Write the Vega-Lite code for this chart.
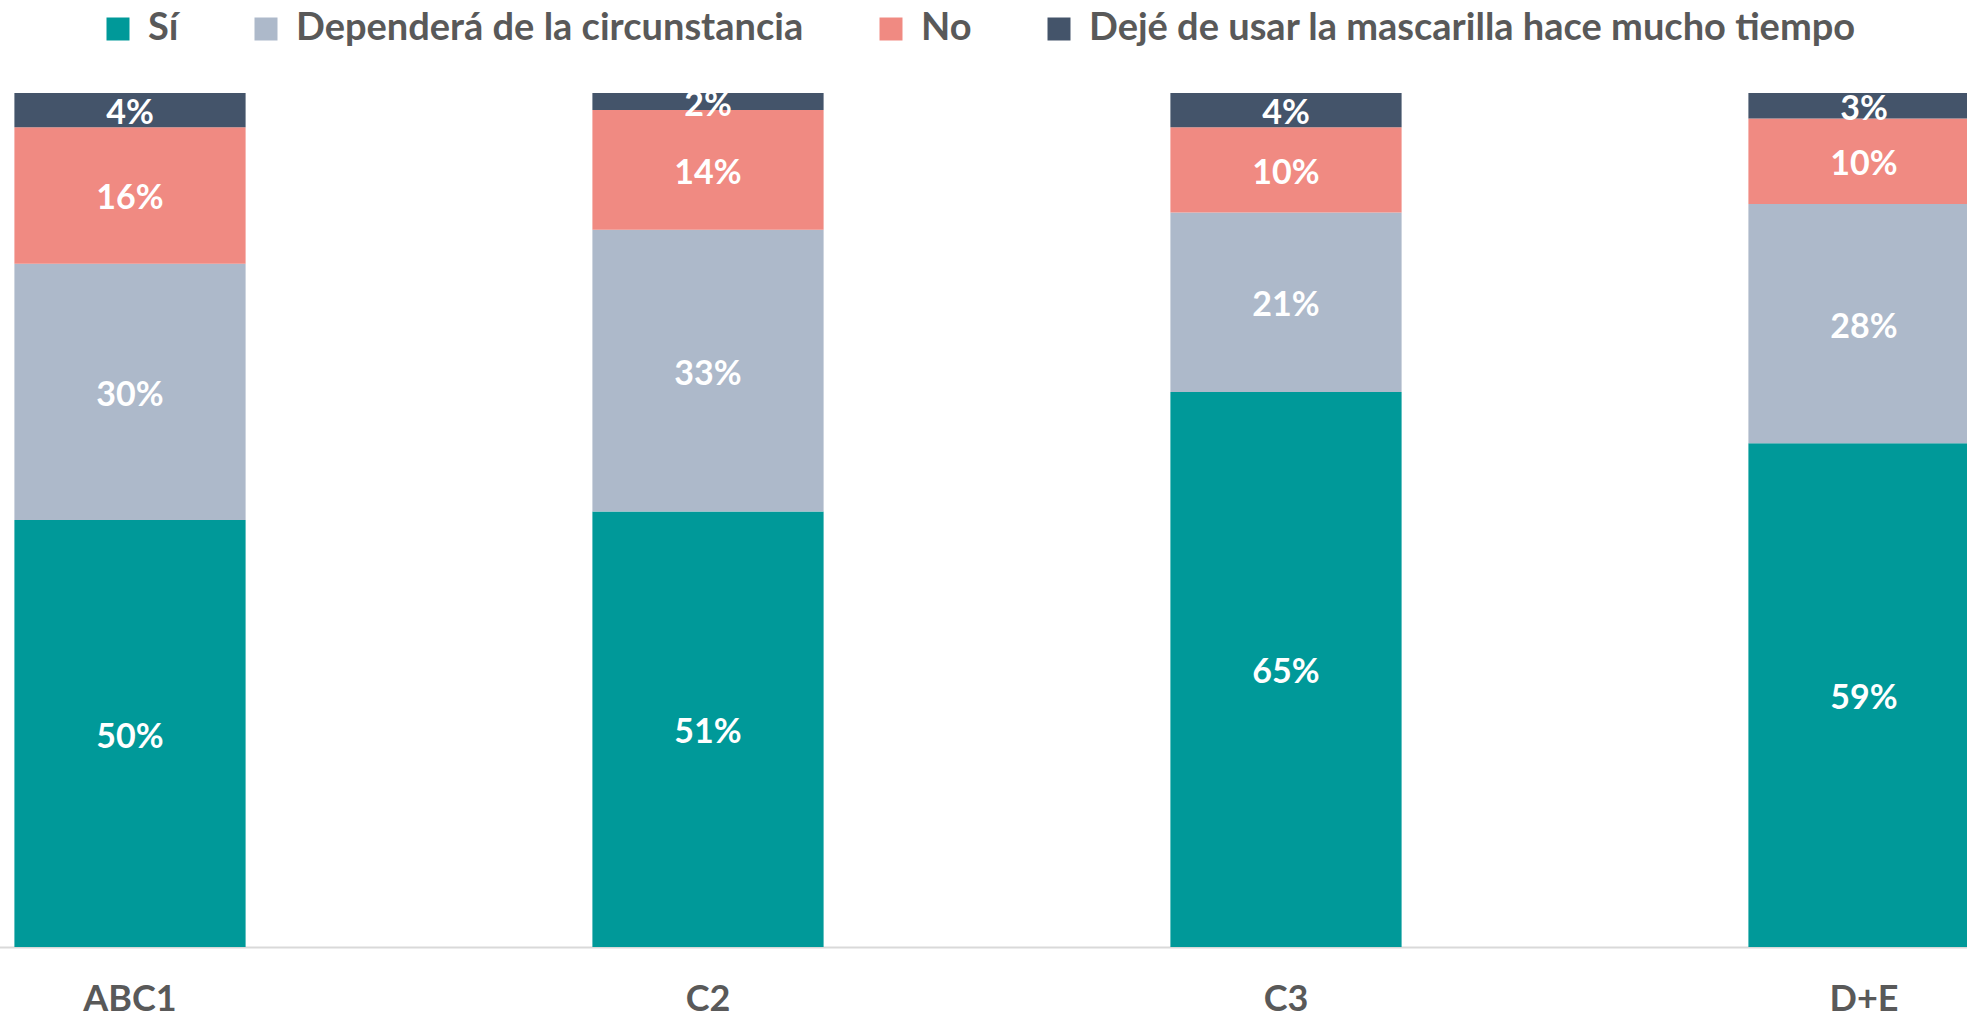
{
  "$schema": "https://vega.github.io/schema/vega-lite/v6.json",
  "autosize": {"type": "none"},
  "width": 1967,
  "height": 854,
  "padding": {"top": 93, "left": 0, "right": 0, "bottom": 73},
  "background": "white",
  "config": {"view": {"stroke": null}, "font": "Lato"},
  "data": {"values": [
    {"nse": "ABC1", "respuesta": "Sí", "orden": 1, "valor": 50},
    {"nse": "ABC1", "respuesta": "Dependerá de la circunstancia", "orden": 2, "valor": 30},
    {"nse": "ABC1", "respuesta": "No", "orden": 3, "valor": 16},
    {"nse": "ABC1", "respuesta": "Dejé de usar la mascarilla hace mucho tiempo", "orden": 4, "valor": 4},
    {"nse": "C2", "respuesta": "Sí", "orden": 1, "valor": 51},
    {"nse": "C2", "respuesta": "Dependerá de la circunstancia", "orden": 2, "valor": 33},
    {"nse": "C2", "respuesta": "No", "orden": 3, "valor": 14},
    {"nse": "C2", "respuesta": "Dejé de usar la mascarilla hace mucho tiempo", "orden": 4, "valor": 2},
    {"nse": "C3", "respuesta": "Sí", "orden": 1, "valor": 65},
    {"nse": "C3", "respuesta": "Dependerá de la circunstancia", "orden": 2, "valor": 21},
    {"nse": "C3", "respuesta": "No", "orden": 3, "valor": 10},
    {"nse": "C3", "respuesta": "Dejé de usar la mascarilla hace mucho tiempo", "orden": 4, "valor": 4},
    {"nse": "D+E", "respuesta": "Sí", "orden": 1, "valor": 59},
    {"nse": "D+E", "respuesta": "Dependerá de la circunstancia", "orden": 2, "valor": 28},
    {"nse": "D+E", "respuesta": "No", "orden": 3, "valor": 10},
    {"nse": "D+E", "respuesta": "Dejé de usar la mascarilla hace mucho tiempo", "orden": 4, "valor": 3}
  ]},
  "transform": [
    {"stack": "valor", "groupby": ["nse"], "sort": [{"field": "orden", "order": "ascending"}], "as": ["v0", "v1"]},
    {"calculate": "(datum.v0 + datum.v1) / 2", "as": "vmid"},
    {"calculate": "datum.valor + '%'", "as": "etiqueta"}
  ],
  "encoding": {
    "x": {
      "field": "nse", "type": "nominal", "sort": ["ABC1", "C2", "C3", "D+E"],
      "scale": {"range": [-159, 2153], "paddingInner": 0.6, "paddingOuter": 0.3},
      "axis": {
        "title": null, "labelAngle": 0, "ticks": false,
        "domainColor": "#d9d9d9", "domainWidth": 2,
        "labelFont": "Lato", "labelFontSize": 36, "labelFontWeight": "bold",
        "labelColor": "#595959", "labelPadding": 35
      }
    }
  },
  "layer": [
    {
      "mark": {"type": "bar"},
      "encoding": {
        "y": {"field": "v0", "type": "quantitative", "scale": {"domain": [0, 100]}, "axis": null},
        "y2": {"field": "v1"},
        "color": {
          "field": "respuesta", "type": "nominal",
          "scale": {
            "domain": ["Sí", "Dependerá de la circunstancia", "No", "Dejé de usar la mascarilla hace mucho tiempo"],
            "range": ["#009999", "#ADB9CA", "#F08A82", "#44546A"]
          },
          "legend": {
            "title": null, "orient": "none", "direction": "horizontal",
            "legendX": 99, "legendY": -83,
            "symbolType": "square", "symbolSize": 529, "symbolStrokeWidth": 0, "symbolOpacity": 1,
            "labelFont": "Lato", "labelFontSize": 38, "labelFontWeight": "bold", "labelColor": "#595959",
            "labelOffset": 11, "columnPadding": 68, "labelLimit": 1000
          }
        }
      }
    },
    {
      "mark": {"type": "text", "color": "white", "font": "Lato", "fontSize": 34, "fontWeight": "bold", "baseline": "middle", "align": "center", "dy": 4},
      "encoding": {
        "y": {"field": "vmid", "type": "quantitative"},
        "text": {"field": "etiqueta", "type": "nominal"}
      }
    }
  ]
}
